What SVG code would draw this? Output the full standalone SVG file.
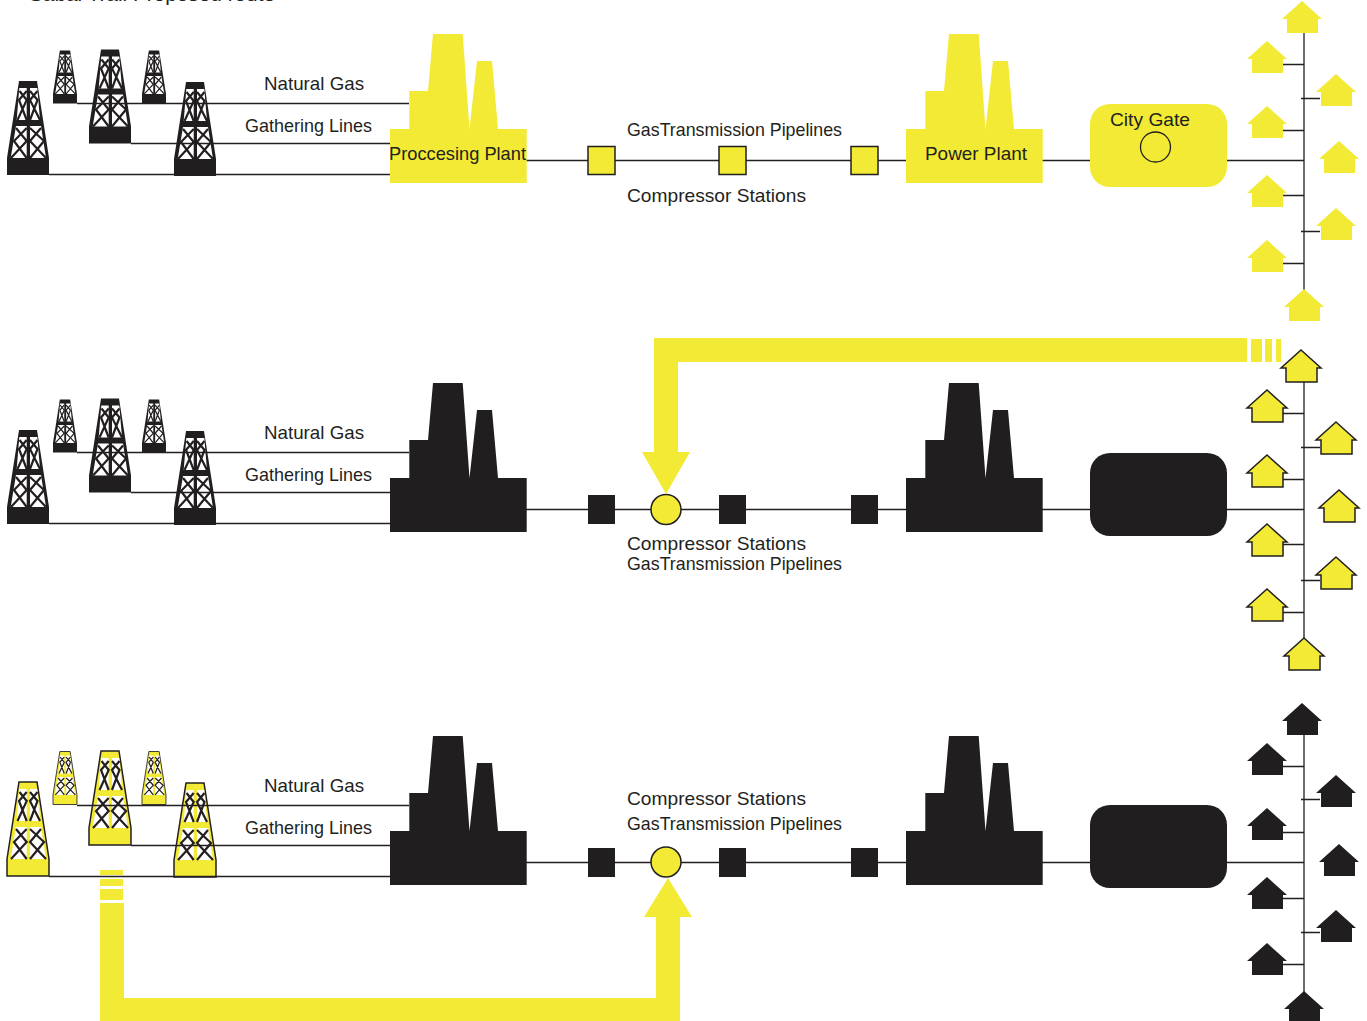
<svg xmlns="http://www.w3.org/2000/svg" width="1367" height="1021" viewBox="0 0 1367 1021">
<style>
.ln{stroke:#231f20;stroke-width:1.3;fill:none}
.t{font-family:"Liberation Sans",Arial,sans-serif;font-size:19px;fill:#231f20}
.y{fill:#f2ea34}.k{fill:#201e1f}
.ys{fill:#f2ea34;stroke:#231f20;stroke-width:1.5}
.pane{fill:#fff}
.x{stroke:#231f20;stroke-width:2.200;fill:none}
</style>
<defs>
<g id="dgrid">
<path class="pane" d="M12.300 7H19.700V39H9.700ZM23 7H30.300L33 39H23ZM9 45H19.700V77H3.700ZM23 45H34L39 77H23Z"/>
<path class="x" d="M12.500 10L19.700 19L10.500 39M19.700 10L12 19L19.700 39M23 10L30.500 19L23 39M30.500 10L23 19L33 39M9 47L19.700 60L4 77M19.700 47L7 60L19.700 77M23 47L37 60L23 77M34 47L23 60L39 77"/>
</g>
<g id="derrick-k"><path class="k" d="M12 0H30L42 77V94H0V77Z"/><use href="#dgrid"/></g>
<g id="derrick-y"><path class="ys" d="M12 0H30L42 77V94H0V77Z"/><use href="#dgrid"/></g>
<path id="factory" d="M0 95H19.300V57H38L43 0H72.700L79.500 95L87 27H102L108 95H136.700V149H0Z"/>
<path id="house" d="M0 0L20 18H16V32H-15V18H-20Z"/>
</defs>

<g id="row1-wells">
<use href="#derrick-k" transform="translate(7 81)"/>
<use href="#derrick-k" transform="translate(53 50.500) scale(.571 .564)"/>
<use href="#derrick-k" transform="translate(89 49.500)"/>
<use href="#derrick-k" transform="translate(142 50.500) scale(.571 .564)"/>
<use href="#derrick-k" transform="translate(174 82)"/>
</g>
<g id="row2-wells">
<use href="#derrick-k" transform="translate(7 430)"/>
<use href="#derrick-k" transform="translate(53 399.500) scale(.571 .564)"/>
<use href="#derrick-k" transform="translate(89 398.500)"/>
<use href="#derrick-k" transform="translate(142 399.500) scale(.571 .564)"/>
<use href="#derrick-k" transform="translate(174 431)"/>
</g>
<g id="row3-wells">
<use href="#derrick-y" transform="translate(7 782)"/>
<use href="#derrick-y" transform="translate(53 751.500) scale(.571 .564)"/>
<use href="#derrick-y" transform="translate(89 751)"/>
<use href="#derrick-y" transform="translate(142 751.500) scale(.571 .564)"/>
<use href="#derrick-y" transform="translate(174 783)"/>
</g>

<g id="connectors">
<path class="ln" d="M77 103.500H409M131 143.500H390M49 174.500H390M526 160.500H588M615 160.500H719M746 160.500H851M878 160.500H906M1042 160.500H1090M1227 160.500H1304M1304 33V292M1283 64.500H1304M1301 98.500H1320M1283 130.500H1304M1283 195.500H1304M1301 231.500H1320M1283 263.500H1304"/>
<path class="ln" d="M77 452.500H409M131 492.500H390M49 523.500H390M526 509.500H588M615 509.500H651M681 509.500H719M746 509.500H851M878 509.500H906M1042 509.500H1090M1227 509.500H1304M1304 382V640M1283 413.500H1304M1301 447.500H1320M1283 479.500H1304M1283 544.500H1304M1301 580.500H1320M1283 612.500H1304"/>
<path class="ln" d="M77 805.500H409M131 845.500H390M49 876.500H390M526 862.500H588M615 862.500H651M681 862.500H719M746 862.500H851M878 862.500H906M1042 862.500H1090M1227 862.500H1304M1304 735V993M1283 766.500H1304M1301 799.500H1320M1283 832.500H1304M1283 898.500H1304M1301 932.500H1320M1283 964.500H1304"/>
</g>

<text class="t" x="29" y="1" textLength="246" lengthAdjust="spacingAndGlyphs">Sabal Trail Proposed route</text>

<g id="row1-processing"><use href="#factory" x="390" y="34" class="y"/><text class="t" x="389" y="160" textLength="137" lengthAdjust="spacingAndGlyphs">Proccesing Plant</text></g>
<g id="row1-compressors">
<rect class="ys" x="588" y="146.500" width="27" height="28"/>
<rect class="ys" x="719" y="146.500" width="27" height="28"/>
<rect class="ys" x="851" y="146.500" width="27" height="28"/>
</g>
<g id="row1-power"><use href="#factory" x="906" y="34" class="y"/><text class="t" x="925" y="160" textLength="102" lengthAdjust="spacingAndGlyphs">Power Plant</text></g>
<g id="row1-citygate"><rect class="y" x="1090" y="104" width="137" height="83" rx="20"/><circle cx="1155.500" cy="147" r="15" fill="none" stroke="#231f20" stroke-width="1.300"/><text class="t" x="1110" y="126" textLength="80" lengthAdjust="spacingAndGlyphs">City Gate</text></g>
<g id="row1-homes" class="y">
<use href="#house" x="1302" y="1"/><use href="#house" x="1267" y="41"/><use href="#house" x="1336" y="74"/><use href="#house" x="1267" y="106"/><use href="#house" x="1339" y="141"/><use href="#house" x="1267" y="175"/><use href="#house" x="1336" y="208"/><use href="#house" x="1267" y="240"/><use href="#house" x="1304" y="289"/>
</g>
<g id="row1-labels">
<text class="t" x="264" y="90" textLength="100" lengthAdjust="spacingAndGlyphs">Natural Gas</text>
<text class="t" x="245" y="132" textLength="127" lengthAdjust="spacingAndGlyphs">Gathering Lines</text>
<text class="t" x="627" y="136" textLength="215" lengthAdjust="spacingAndGlyphs">GasTransmission Pipelines</text>
<text class="t" x="627" y="202" textLength="179" lengthAdjust="spacingAndGlyphs">Compressor Stations</text>
</g>

<g id="row2-processing"><use href="#factory" x="390" y="383" class="k"/></g>
<g id="row2-compressors" class="k">
<rect x="588" y="495" width="27" height="29"/>
<rect x="719" y="495" width="27" height="29"/>
<rect x="851" y="495" width="27" height="29"/>
</g>
<g id="row2-junction"><circle class="ys" cx="666" cy="509.500" r="15"/></g>
<g id="row2-power"><use href="#factory" x="906" y="383" class="k"/></g>
<g id="row2-citygate"><rect class="k" x="1090" y="453" width="137" height="83" rx="20"/></g>
<g id="row2-homes" class="ys">
<use href="#house" x="1301" y="350"/><use href="#house" x="1267" y="390"/><use href="#house" x="1336" y="422"/><use href="#house" x="1267" y="455"/><use href="#house" x="1339" y="490"/><use href="#house" x="1267" y="524"/><use href="#house" x="1336" y="557"/><use href="#house" x="1267" y="589"/><use href="#house" x="1304" y="638"/>
</g>
<g id="row2-route" class="y">
<path d="M1247 338H654V452H642L666 494L690 452H678V362H1247Z"/>
<rect x="1251" y="339" width="11" height="23"/><rect x="1265" y="339" width="7" height="23"/><rect x="1276" y="339" width="5" height="23"/>
</g>
<g id="row2-labels">
<text class="t" x="264" y="439" textLength="100" lengthAdjust="spacingAndGlyphs">Natural Gas</text>
<text class="t" x="245" y="481" textLength="127" lengthAdjust="spacingAndGlyphs">Gathering Lines</text>
<text class="t" x="627" y="550" textLength="179" lengthAdjust="spacingAndGlyphs">Compressor Stations</text>
<text class="t" x="627" y="570" textLength="215" lengthAdjust="spacingAndGlyphs">GasTransmission Pipelines</text>
</g>

<g id="row3-processing"><use href="#factory" x="390" y="736" class="k"/></g>
<g id="row3-compressors" class="k">
<rect x="588" y="848" width="27" height="29"/>
<rect x="719" y="848" width="27" height="29"/>
<rect x="851" y="848" width="27" height="29"/>
</g>
<g id="row3-junction"><circle class="ys" cx="666" cy="862" r="15"/></g>
<g id="row3-power"><use href="#factory" x="906" y="736" class="k"/></g>
<g id="row3-citygate"><rect class="k" x="1090" y="805" width="137" height="83" rx="20"/></g>
<g id="row3-homes" class="k">
<use href="#house" x="1302" y="703"/><use href="#house" x="1267" y="743"/><use href="#house" x="1336" y="775"/><use href="#house" x="1267" y="808"/><use href="#house" x="1339" y="844"/><use href="#house" x="1267" y="877"/><use href="#house" x="1336" y="910"/><use href="#house" x="1267" y="943"/><use href="#house" x="1304" y="991"/>
</g>
<g id="row3-route" class="y">
<rect x="100" y="870" width="23" height="5"/><rect x="100" y="879" width="23" height="7"/><rect x="100" y="889" width="23" height="11"/>
<path d="M100 903H124V998H656V917H644L668 878L692 917H680V1021H100Z"/>
</g>
<g id="row3-labels">
<text class="t" x="264" y="792" textLength="100" lengthAdjust="spacingAndGlyphs">Natural Gas</text>
<text class="t" x="245" y="834" textLength="127" lengthAdjust="spacingAndGlyphs">Gathering Lines</text>
<text class="t" x="627" y="805" textLength="179" lengthAdjust="spacingAndGlyphs">Compressor Stations</text>
<text class="t" x="627" y="830" textLength="215" lengthAdjust="spacingAndGlyphs">GasTransmission Pipelines</text>
</g>
</svg>
